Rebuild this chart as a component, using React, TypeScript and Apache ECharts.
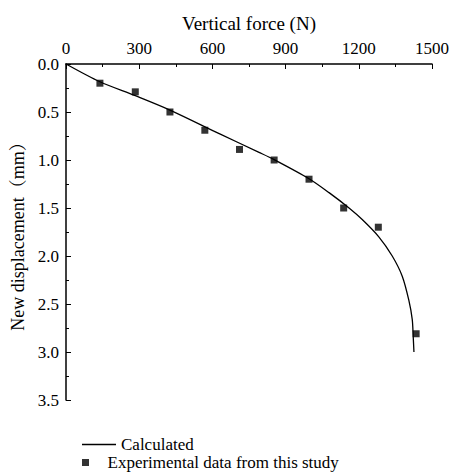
import React, { useEffect, useRef } from "react";
import * as echarts from "echarts";

// Experimental measurements
const expForce = [139, 284, 426, 569, 711, 853, 996, 1138, 1280, 1435];
const expDisp = [0.2, 0.29, 0.5, 0.69, 0.89, 1.0, 1.2, 1.5, 1.7, 2.81];

// Calculated load–displacement curve
const calcForce = [0, 139, 284, 426, 628, 791, 853, 996, 1078, 1160, 1214, 1282, 1337, 1378, 1405, 1419, 1423, 1426];
const calcDisp = [0, 0.185, 0.33, 0.48, 0.726, 0.92, 0.996, 1.195, 1.34, 1.5, 1.62, 1.8, 2.0, 2.21, 2.46, 2.66, 2.84, 3.0];

const forceTicks = { min: 0, max: 1500, interval: 300 };
const dispTicks = { min: 0, max: 3.5, interval: 0.5 };

const FONT = "Liberation Serif, Times New Roman, Noto Serif CJK SC, Noto Sans CJK SC, serif";

const legendBase = {
  orient: "vertical",
  left: 82,
  padding: 0,
  itemWidth: 34,
  itemHeight: 7,
  textStyle: { color: "#000", fontFamily: FONT, fontSize: 17 },
};

export default function App() {
  const ref = useRef<HTMLDivElement>(null);

  useEffect(() => {
    document.body.style.margin = "0";
    if (!ref.current) return;
    const chart = echarts.init(ref.current, undefined, { renderer: "svg" });

    const axisCommon = {
      axisLine: { show: true, onZero: false, lineStyle: { color: "#000", width: 1.5 } },
      axisTick: { show: true, inside: true, length: 5, lineStyle: { color: "#000", width: 1 } },
      minorTick: { show: true, splitNumber: 2, length: 3, lineStyle: { color: "#000", width: 1 } },
      splitLine: { show: false },
      axisLabel: { color: "#000", fontFamily: FONT, fontSize: 17 },
      nameTextStyle: { color: "#000", fontFamily: FONT, fontSize: 19 },
    };

    chart.setOption({
      animation: false,
      backgroundColor: "#fff",
      grid: { left: 66, top: 64, right: 19, bottom: 72 },
      legend: [
        {
          ...legendBase,
          top: 436,
          data: [{ name: "Calculated", icon: "path://M0,0H34V1.3H0Z" }],
        },
        {
          ...legendBase,
          top: 454,
          data: [{ name: "Experimental data from this study", icon: "path://M0,0H1V1H0Z" }],
        },
      ],
      xAxis: {
        type: "value",
        position: "top",
        ...forceTicks,
        name: "Vertical force (N)",
        nameLocation: "middle",
        nameGap: 31,
        ...axisCommon,
        axisLabel: { ...axisCommon.axisLabel, margin: 7, formatter: (v: number) => String(v) },
      },
      yAxis: {
        type: "value",
        inverse: true,
        ...dispTicks,
        name: "New displacement（mm）",
        nameLocation: "middle",
        nameGap: 35,
        ...axisCommon,
        nameTextStyle: { ...axisCommon.nameTextStyle, fontSize: 18 },
        axisLabel: {
          ...axisCommon.axisLabel,
          margin: 7,
          formatter: (v: number) => v.toFixed(1),
        },
      },
      series: [
        {
          name: "Calculated",
          type: "line",
          data: calcForce.map((f, i) => [f, calcDisp[i]]),
          showSymbol: false,
          symbol: "none",
          smooth: 0.3,
          lineStyle: { color: "#000", width: 1.3 },
          itemStyle: { color: "#000" },
        },
        {
          name: "Experimental data from this study",
          type: "scatter",
          data: expForce.map((f, i) => [f, expDisp[i]]),
          symbol: "rect",
          symbolSize: 7,
          itemStyle: { color: "#000" },
        },
      ],
    });

    return () => chart.dispose();
  }, []);

  return <div ref={ref} style={{ width: 452, height: 472 }} />;
}
